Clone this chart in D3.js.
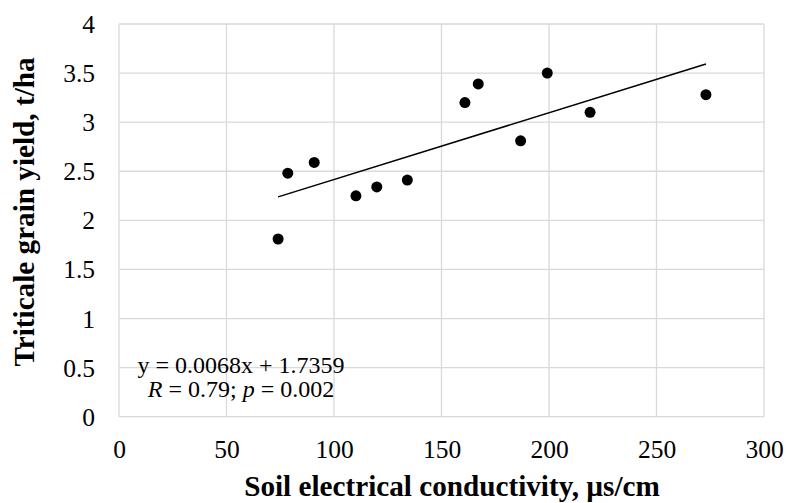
<!DOCTYPE html>
<html>
<head>
<meta charset="utf-8">
<script src="https://cdn.jsdelivr.net/npm/d3@7"></script>
<style>
  html, body { margin: 0; padding: 0; background: #fff; }
  svg { display: block; }
  text { font-family: "Liberation Serif", "Times New Roman", Times, serif; fill: #000; }
</style>
</head>
<body>
<svg id="chart" width="786" height="503"></svg>
<script>
// ---- data ----
const conductivity = [74, 78.5, 90.8, 110.2, 119.9, 134.1, 160.9, 167.1, 186.8, 199.2, 219.1, 273.0];
const yieldTha     = [1.81, 2.48, 2.59, 2.25, 2.34, 2.41, 3.20, 3.39, 2.81, 3.50, 3.10, 3.28];
const trendSlope = 0.0068;
const trendIntercept = 1.7359;
const xTicks = [0, 50, 100, 150, 200, 250, 300];
const yTicks = [0, 0.5, 1, 1.5, 2, 2.5, 3, 3.5, 4];
const xTitle = "Soil electrical conductivity, µs/cm";
const yTitle = "Triticale grain yield, t/ha";
const eqLine = "y = 0.0068x + 1.7359";

(function () {
const svg = d3.select("#chart");
const pl = 119, pr = 764, pt = 24, pb = 416.7;
const serif = '"Liberation Serif", "Times New Roman", Times, serif';

const x = d3.scaleLinear().domain([0, 300]).range([pl, pr]);
const y = d3.scaleLinear().domain([0, 4]).range([pb, pt]);

const grid = "#d9d9d9";

// gridlines
svg.append("g").selectAll("line").data(xTicks).join("line")
  .attr("x1", d => x(d)).attr("x2", d => x(d))
  .attr("y1", pt).attr("y2", pb)
  .attr("stroke", grid).attr("stroke-width", 1.3);
svg.append("g").selectAll("line").data(yTicks).join("line")
  .attr("x1", pl).attr("x2", pr)
  .attr("y1", d => y(d)).attr("y2", d => y(d))
  .attr("stroke", grid).attr("stroke-width", 1.3);

// axes (labels only) using d3 axes
const xAxis = d3.axisBottom(x).tickValues(xTicks).tickSize(0).tickPadding(0).tickFormat(d3.format("~g"));
const gx = svg.append("g").attr("transform", `translate(0,${pb})`).call(xAxis)
  .attr("font-family", serif).attr("font-size", 25.5);
gx.select(".domain").remove();
gx.selectAll("text").attr("fill", "#000").attr("dy", null).attr("y", 41.3);

const yAxis = d3.axisLeft(y).tickValues(yTicks).tickSize(0).tickPadding(0).tickFormat(d3.format("~g"));
const gy = svg.append("g").attr("transform", `translate(95,0)`).call(yAxis)
  .attr("font-family", serif).attr("font-size", 25.5);
gy.select(".domain").remove();
gy.selectAll("text").attr("fill", "#000").attr("dy", null).attr("y", 8.5).attr("x", 0);

// trend line over data range
const xmin = d3.min(conductivity), xmax = d3.max(conductivity);
svg.append("line")
  .attr("x1", x(xmin)).attr("y1", y(trendSlope * xmin + trendIntercept))
  .attr("x2", x(xmax)).attr("y2", y(trendSlope * xmax + trendIntercept))
  .attr("stroke", "#000").attr("stroke-width", 1.5);

// points
svg.append("g").selectAll("circle").data(conductivity).join("circle")
  .attr("cx", d => x(d)).attr("cy", (d, i) => y(yieldTha[i]))
  .attr("r", 5.5).attr("fill", "#000");

// annotation
svg.append("text").attr("x", 241).attr("y", 373).attr("text-anchor", "middle")
  .attr("font-size", 24).text(eqLine);
const t2 = svg.append("text").attr("x", 241).attr("y", 397).attr("text-anchor", "middle")
  .attr("font-size", 24);
t2.append("tspan").attr("font-style", "italic").text("R");
t2.append("tspan").text(" = 0.79; ");
t2.append("tspan").attr("font-style", "italic").text("p");
t2.append("tspan").text(" = 0.002");

// axis titles
svg.append("text").attr("x", 452).attr("y", 496).attr("text-anchor", "middle")
  .attr("font-size", 29.2).attr("font-weight", "bold").text(xTitle);
svg.append("text").attr("transform", "translate(34,212) rotate(-90)")
  .attr("text-anchor", "middle").attr("font-size", 29.2).attr("font-weight", "bold").text(yTitle);
})();
</script>
</body>
</html>
